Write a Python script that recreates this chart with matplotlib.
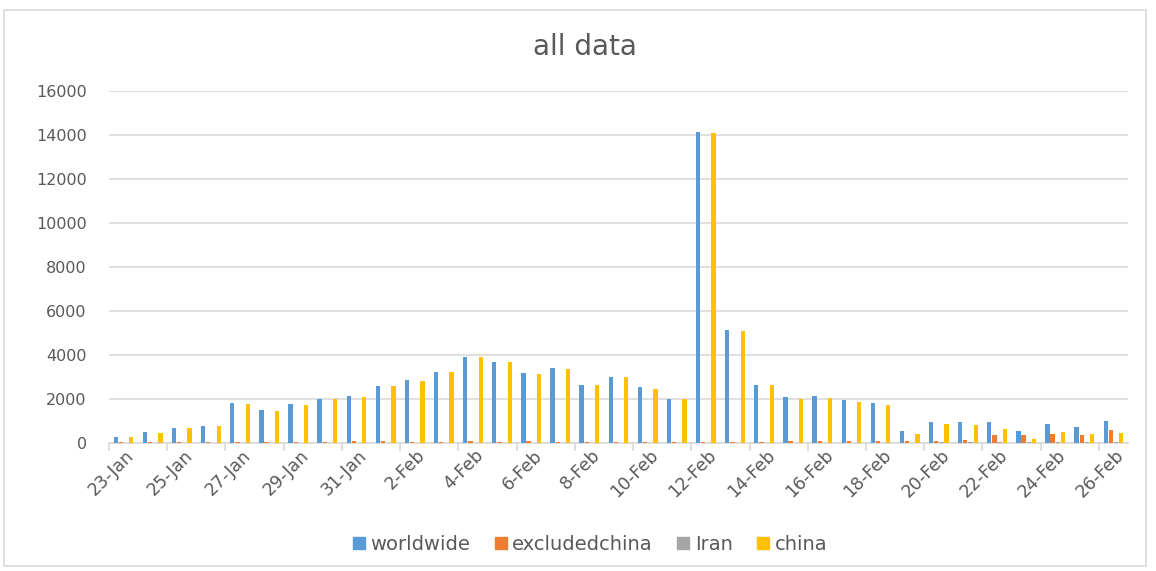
import matplotlib.pyplot as plt
import matplotlib.transforms as mtransforms
from matplotlib.lines import Line2D
from matplotlib.patches import Rectangle
import numpy as np

# daily new cases, 23-Jan .. 26-Feb
dates = ['23-Jan', '24-Jan', '25-Jan', '26-Jan', '27-Jan', '28-Jan', '29-Jan', '30-Jan', '31-Jan',
         '1-Feb', '2-Feb', '3-Feb', '4-Feb', '5-Feb', '6-Feb', '7-Feb', '8-Feb', '9-Feb', '10-Feb',
         '11-Feb', '12-Feb', '13-Feb', '14-Feb', '15-Feb', '16-Feb', '17-Feb', '18-Feb', '19-Feb',
         '20-Feb', '21-Feb', '22-Feb', '23-Feb', '24-Feb', '25-Feb', '26-Feb']

worldwide = [265, 505, 700, 790, 1800, 1505, 1750, 2020, 2125,
             2605, 2845, 3230, 3895, 3700, 3180, 3410, 2655, 2985, 2560,
             2020, 14150, 5140, 2655, 2075, 2135, 1970, 1835, 550,
             965, 965, 970, 540, 875, 730, 1010]
excludedchina = [30, 45, 50, 55, 60, 55, 60, 65, 70,
                 70, 60, 60, 70, 65, 70, 65, 60, 60, 65,
                 60, 60, 60, 60, 100, 100, 100, 105, 105,
                 100, 150, 345, 345, 395, 345, 590]
iran = [0, 0, 0, 0, 0, 0, 0, 0, 0,
        0, 0, 0, 0, 0, 0, 0, 0, 0, 0,
        0, 0, 0, 0, 0, 0, 0, 0, 0,
        30, 40, 40, 45, 45, 50, 50]
china = [259, 444, 688, 769, 1771, 1459, 1737, 1982, 2102,
         2600, 2835, 3230, 3890, 3695, 3140, 3370, 2652, 2980, 2460,
         2015, 14100, 5090, 2645, 2010, 2025, 1880, 1745, 394,
         870, 825, 630, 190, 490, 395, 445]

series = [('worldwide', worldwide, '#5B9BD5'),
          ('excludedchina', excludedchina, '#ED7D31'),
          ('Iran', iran, '#A5A5A5'),
          ('china', china, '#FFC000')]

text_col = '#595959'
grid_col = '#D9D9D9'

fig = plt.figure(figsize=(11.56, 5.71), dpi=100)
ax = fig.add_axes([0.0943, 0.2242, 0.8815, 0.6164])

# chart area border
fig.patches.append(Rectangle((4 / 1156, 5 / 571), 1142 / 1156, 556 / 571,
                             transform=fig.transFigure, fill=False,
                             edgecolor=grid_col, linewidth=1.2))

x = np.arange(len(dates))
bw = 0.148
step = 0.178
for i, (name, vals, col) in enumerate(series):
    ax.bar(x + (i - 1.5) * step, vals, width=bw, color=col, label=name, zorder=3)

ax.set_xlim(-0.5, len(dates) - 0.5)
ax.set_ylim(0, 16000)
ax.set_yticks(range(0, 16001, 2000))
ax.yaxis.grid(True, color=grid_col, linewidth=1.2, zorder=0)
ax.tick_params(axis='y', length=0, labelsize=11.5, labelcolor=text_col, pad=16)

for s in ['top', 'right', 'left']:
    ax.spines[s].set_visible(False)
ax.spines['bottom'].set_color(grid_col)
ax.spines['bottom'].set_linewidth(1.2)

# labels on every other day, tick marks on category boundaries
ax.set_xticks(x[::2])
ax.set_xticklabels(dates[::2], rotation=45, ha='right', va='center',
                   rotation_mode='anchor', fontsize=12.5, color=text_col)
ax.tick_params(axis='x', which='major', length=0, pad=7)
ax.set_xticks(np.arange(-0.5, len(dates) - 1, 2), minor=True)
ax.tick_params(axis='x', which='minor', length=6, width=1.2, color=grid_col)
shift = mtransforms.ScaledTranslation(8 / 100, 0, fig.dpi_scale_trans)
for lbl in ax.get_xticklabels():
    lbl.set_transform(lbl.get_transform() + shift)

fig.text(0.506, 0.918, 'all data', ha='center', va='center', fontsize=20, color=text_col)

handles = [Line2D([], [], marker='s', linestyle='none', markersize=9,
                  markerfacecolor=c, markeredgecolor=c) for _, _, c in series]
fig.legend(handles, [n for n, _, _ in series], loc='center', bbox_to_anchor=(0.51, 0.046),
           ncol=4, frameon=False, fontsize=14, labelcolor=text_col,
           handlelength=0.7, handletextpad=0.25, columnspacing=1.2)

fig.savefig('out.png', dpi=100)
